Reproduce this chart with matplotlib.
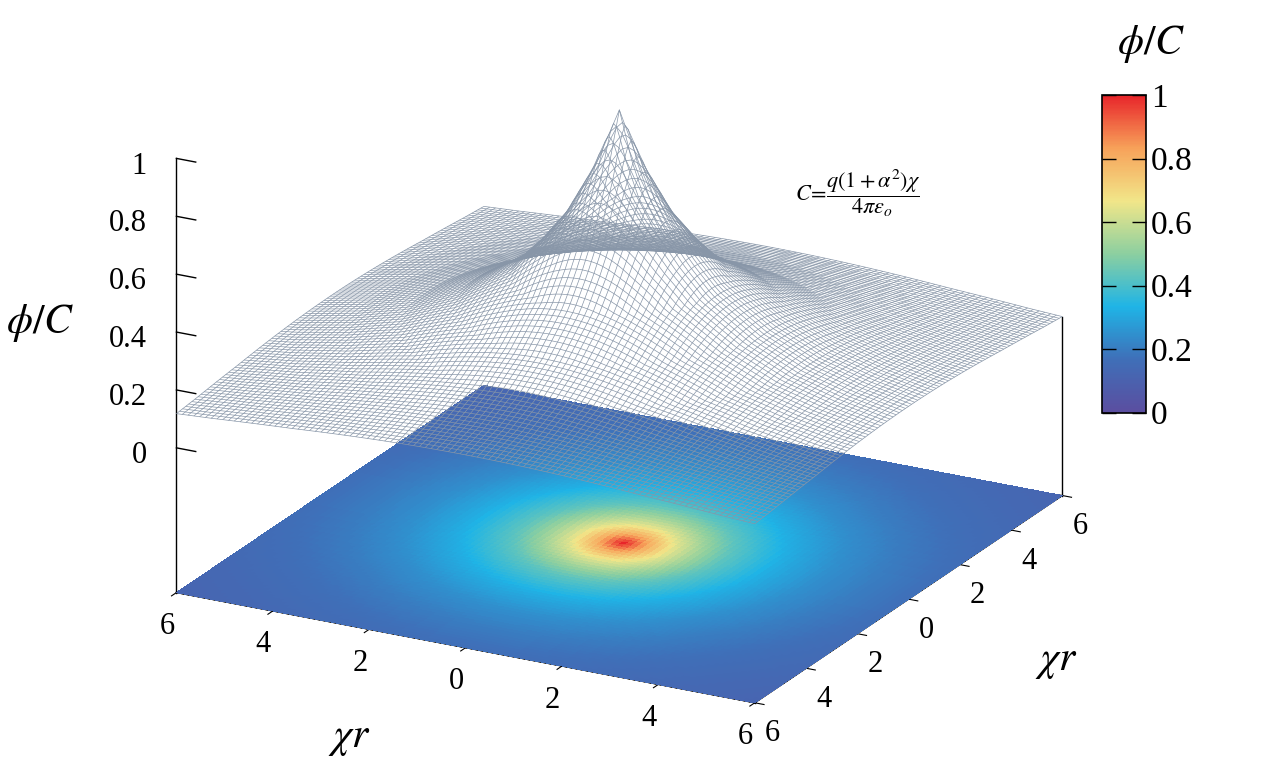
import numpy as np
import matplotlib
matplotlib.use("Agg")
import matplotlib.pyplot as plt
from matplotlib.colors import LinearSegmentedColormap

# radial profile phi/C vs chi*r
r_vals = [0, 0.5, 1, 1.5, 2, 3, 4, 5, 6, 7, 8, 9]
phi_vals = [1.0, 0.79, 0.63, 0.52, 0.43, 0.32, 0.245, 0.199, 0.166, 0.143, 0.125, 0.111]
axis_ticks = [-6, -4, -2, 0, 2, 4, 6]
axis_labels = ["6", "4", "2", "0", "2", "4", "6"]
z_ticks = [0, 0.2, 0.4, 0.6, 0.8, 1]
z_labels = ["0", "0.2", "0.4", "0.6", "0.8", "1"]
cb_ticks = [0, 0.2, 0.4, 0.6, 0.8, 1]

plt.rcParams['font.family'] = ['Liberation Serif', 'DejaVu Serif']
plt.rcParams['mathtext.fontset'] = 'stix'

cmap = LinearSegmentedColormap.from_list("pal", ["#5b4ea0", "#3f6fb8", "#1fb4e6", "#8ccfa0",
                                                 "#f1e689", "#f7a25a", "#e8252a"])

n = 101
x = np.linspace(-6, 6, n)
X, Y = np.meshgrid(x, x)
R = np.sqrt(X**2 + Y**2)
Z = np.interp(R, r_vals, phi_vals)

fig = plt.figure(figsize=(12.62, 7.74), dpi=100)
ax = fig.add_axes([-0.02, -0.09, 1.0, 1.3], projection='3d')
ax.set_proj_type('ortho')
floor = -0.5
ax.plot_surface(X, Y, np.full_like(Z, floor), facecolors=cmap(Z), shade=False,
                rstride=1, cstride=1, linewidth=0, antialiased=False)
ax.plot_wireframe(X, Y, Z, rstride=1, cstride=1, color='#8896a8', linewidth=0.5)

# box edges
zc = np.interp(6 * np.sqrt(2), r_vals, phi_vals)
ax.plot([-6, 6], [-6, -6], [floor, floor], color='k', lw=1)
ax.plot([6, 6], [-6, 6], [floor, floor], color='k', lw=1)
ax.plot([6, 6], [-6, -6], [floor, zc], color='k', lw=1)
ax.plot([6, 6], [6, 6], [floor, zc], color='k', lw=1)
ax.plot([-6, -6], [-6, -6], [floor, 1], color='k', lw=1)
for t, lab in zip(z_ticks, z_labels):
    ax.plot([-6, -5.6], [-6, -6], [t, t], color='k', lw=1)
    ax.text(-6.3, -6.6, t, lab, fontsize=22, ha='right', va='center')

ax.set_xlim(-6, 6); ax.set_ylim(-6, 6); ax.set_zlim(floor, 1)
ax.view_init(elev=21, azim=-62)
ax.set_box_aspect((1, 1, 0.71))
for a in (ax.xaxis, ax.yaxis, ax.zaxis):
    a.pane.fill = False
    a.pane.set_edgecolor('none')
    a._axinfo['grid']['linewidth'] = 0
ax.zaxis.line.set_color('none')
ax.grid(False)
ax.set_xticks(axis_ticks); ax.set_xticklabels(axis_labels, fontsize=22)
ax.set_yticks(axis_ticks); ax.set_yticklabels(axis_labels, fontsize=22)
ax.set_zticks([])
fig.text(0.26, 0.035, r'$\chi r$', fontsize=30)
fig.text(0.82, 0.135, r'$\chi r$', fontsize=30)
fig.text(0.005, 0.57, r'$\phi/C$', fontsize=30)
fig.text(0.63, 0.74, r'$C\!=\!\dfrac{q(1+\alpha^2)\chi}{4\pi\varepsilon_o}$', fontsize=16)

cax = fig.add_axes([0.873, 0.467, 0.035, 0.41])
sm = plt.cm.ScalarMappable(cmap=cmap, norm=plt.Normalize(0, 1))
cb = fig.colorbar(sm, cax=cax, ticks=cb_ticks)
cb.ax.set_yticklabels([f"{t:g}" for t in cb_ticks], fontsize=24)
cb.ax.tick_params(direction='in', length=10, width=1, left=True)
cb.outline.set_linewidth(1.2)
fig.text(0.885, 0.93, r'$\phi/C$', fontsize=30)

fig.savefig("out.png", dpi=100)
